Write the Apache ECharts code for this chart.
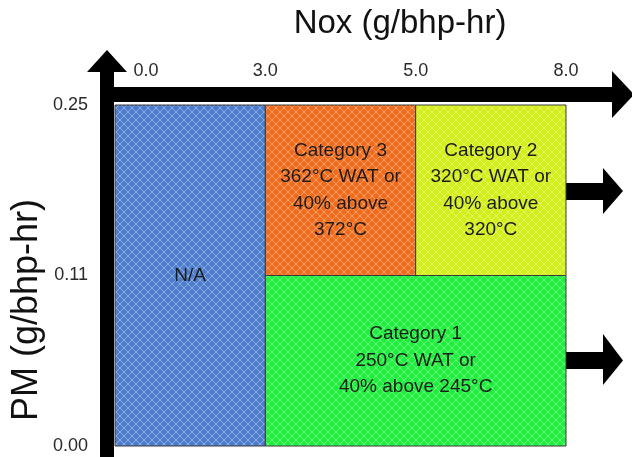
<!DOCTYPE html>
<html>
<head>
<meta charset="utf-8">
<script src="https://cdn.jsdelivr.net/npm/echarts@6/dist/echarts.min.js"></script>
<style>
  html, body { margin: 0; padding: 0; background: #fff; }
  #chart { width: 632px; height: 457px; }
</style>
</head>
<body>
<div id="chart"></div>
<script>
// ---- data ----
const noxTicks = ['0.0', '3.0', '5.0', '8.0'];
const noxValues = [0.0, 3.0, 5.0, 8.0];
const pmTicks = ['0.00', '0.11', '0.25'];
const pmValues = [0.00, 0.11, 0.25];

const regionNames = [
  'N/A',
  'Category 3\n362°C WAT or\n40% above\n372°C',
  'Category 2\n320°C WAT or\n40% above\n320°C',
  'Category 1\n250°C WAT or\n40% above 245°C'
];
const regionNox = [[0.0, 3.0], [3.0, 5.0], [5.0, 8.0], [3.0, 8.0]];
const regionPm = [[0.00, 0.25], [0.11, 0.25], [0.11, 0.25], [0.00, 0.11]];

// ---- styles ----
const regionColors = ['#4d7dcc', '#f06c1c', '#d4ee1a', '#1eee3c'];
const FONT = "'Liberation Sans', Arial, sans-serif";

function makePattern(base) {
  const c = document.createElement('canvas');
  c.width = 8; c.height = 8;
  const g = c.getContext('2d');
  g.fillStyle = base;
  g.fillRect(0, 0, 8, 8);
  g.strokeStyle = 'rgba(255,255,255,0.35)';
  g.lineWidth = 1;
  g.beginPath();
  g.moveTo(-1, -1); g.lineTo(9, 9);
  g.moveTo(9, -1); g.lineTo(-1, 9);
  g.stroke();
  return { image: c, repeat: 'repeat' };
}
const patterns = regionColors.map(makePattern);

const seriesData = regionNames.map((n, i) => [
  noxValues.indexOf(regionNox[i][0]),
  noxValues.indexOf(regionNox[i][1]),
  pmValues.indexOf(regionPm[i][0]),
  pmValues.indexOf(regionPm[i][1]),
  i
]);

const chart = echarts.init(document.getElementById('chart'), null, { renderer: 'canvas' });

const option = {
  animation: false,
  backgroundColor: '#fff',
  grid: { left: 115, right: 66, top: 105, bottom: 11 },
  xAxis: {
    type: 'value', position: 'top', min: 0, max: 3, interval: 1,
    axisLine: { show: false }, axisTick: { show: false }, splitLine: { show: false },
    axisLabel: {
      margin: 25, color: '#2a2a2a', fontSize: 18, fontFamily: FONT,
      formatter: function (v) {
        const i = Math.round(v);
        return i === 0 ? '{first|' + noxTicks[i] + '}' : noxTicks[i];
      },
      rich: { first: { padding: [0, 0, 0, 62], fontSize: 18, fontFamily: FONT, color: '#2a2a2a' } }
    }
  },
  yAxis: {
    type: 'value', min: 0, max: 2, interval: 1,
    axisLine: { show: false }, axisTick: { show: false }, splitLine: { show: false },
    axisLabel: {
      margin: 27, color: '#2a2a2a', fontSize: 18, fontFamily: FONT,
      formatter: function (v) { return pmTicks[Math.round(v)]; }
    }
  },
  series: [{
    type: 'custom',
    data: seriesData,
    encode: { x: [0, 1], y: [2, 3] },
    renderItem: function (params, api) {
      const p0 = api.coord([api.value(0), api.value(3)]);
      const p1 = api.coord([api.value(1), api.value(2)]);
      const idx = api.value(4);
      return {
        type: 'rect',
        shape: { x: p0[0], y: p0[1], width: p1[0] - p0[0], height: p1[1] - p0[1] },
        style: { fill: patterns[idx], stroke: '#3a3a3a', lineWidth: 1 },
        textContent: {
          style: {
            text: regionNames[idx], fontSize: 19, fontFamily: FONT, fill: '#1c1c1c',
            align: 'center', lineHeight: 26.5
          }
        },
        textConfig: { position: 'inside' }
      };
    }
  }],
  graphic: [
    // left vertical axis arrow
    { type: 'rect', shape: { x: 100, y: 70, width: 14, height: 390 }, style: { fill: '#000' } },
    { type: 'polygon', shape: { points: [[87, 72], [107, 50], [127, 72]] }, style: { fill: '#000' } },
    // top horizontal axis arrow
    { type: 'rect', shape: { x: 100, y: 87, width: 514, height: 15 }, style: { fill: '#000' } },
    { type: 'polygon', shape: { points: [[612, 71], [634, 94.5], [612, 118]] }, style: { fill: '#000' } },
    // right arrows
    { type: 'rect', shape: { x: 566, y: 183, width: 40, height: 17 }, style: { fill: '#000' } },
    { type: 'polygon', shape: { points: [[603, 168], [623, 191], [603, 214]] }, style: { fill: '#000' } },
    { type: 'rect', shape: { x: 566, y: 352, width: 40, height: 17 }, style: { fill: '#000' } },
    { type: 'polygon', shape: { points: [[603, 334], [623, 360.5], [603, 385]] }, style: { fill: '#000' } },
    // axis titles
    { type: 'text', x: 400, y: 24, style: { text: 'Nox (g/bhp-hr)', fontSize: 33, fontFamily: FONT, fill: '#111', align: 'center', verticalAlign: 'middle' } },
    { type: 'text', x: 27, y: 310, rotation: Math.PI / 2, style: { text: 'PM (g/bhp-hr)', fontSize: 36, fontFamily: FONT, fill: '#111', align: 'center', verticalAlign: 'middle' } }
  ]
};
chart.setOption(option);
</script>
</body>
</html>
